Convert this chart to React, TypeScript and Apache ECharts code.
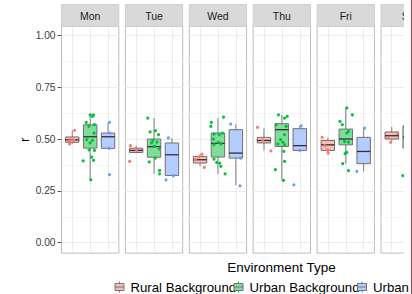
import React, { useEffect, useRef } from "react";
import * as echarts from "echarts";

// ---------- data ----------
const days = ["Mon", "Tue", "Wed", "Thu", "Fri", "Sat"];
const envTypes = ["Rural Background", "Urban Background", "Urban"];
const yMajorTicks = [0, 0.25, 0.5, 0.75, 1];
const yMinorTicks = [0.125, 0.375, 0.625, 0.875];
const yTickLabels = ["0.00", "0.25", "0.50", "0.75", "1.00"];

// box stats per day: [min, q1, median, q3, max]
const ruralBox = [
  [0.477, 0.485, 0.497, 0.511, 0.543],
  [0.436, 0.436, 0.446, 0.457, 0.469],
  [0.369, 0.385, 0.401, 0.417, 0.428],
  [0.446, 0.482, 0.494, 0.509, 0.554],
  [0.436, 0.446, 0.473, 0.494, 0.509],
  [0.489, 0.501, 0.517, 0.535, 0.559],
];
const urbanBgBox = [
  [0.304, 0.457, 0.512, 0.570, 0.618],
  [0.333, 0.413, 0.464, 0.501, 0.602],
  [0.333, 0.414, 0.480, 0.530, 0.602],
  [0.301, 0.465, 0.546, 0.575, 0.618],
  [0.382, 0.473, 0.501, 0.549, 0.651],
  [0.324, 0.458, 0.510, 0.565, 0.600],
];
const urbanBox = [
  [0.456, 0.456, 0.512, 0.530, 0.581],
  [0.324, 0.325, 0.425, 0.482, 0.506],
  [0.278, 0.409, 0.433, 0.546, 0.573],
  [0.446, 0.446, 0.469, 0.551, 0.565],
  [0.345, 0.382, 0.441, 0.509, 0.554],
  [0.420, 0.450, 0.480, 0.520, 0.560],
];

// jittered points per day: [horizontal jitter (category units), r]
const ruralPoints = [
  [[0.13, 0.543], [-0.06, 0.501], [-0.19, 0.491], [-0.15, 0.477], [0.09, 0.494]],
  [[-0.32, 0.469], [-0.36, 0.393], [0.02, 0.446]],
  [[0.11, 0.428], [0.24, 0.364], [-0.26, 0.401], [-0.07, 0.415]],
  [[-0.36, 0.557], [0.39, 0.444], [-0.07, 0.496]],
  [[-0.32, 0.509], [0.02, 0.433], [-0.02, 0.449], [-0.17, 0.469]],
  [[0.32, 0.530], [-0.06, 0.485], [-0.22, 0.507]],
];
const urbanBgPoints = [
  [[0, 0.618], [0.19, 0.618], [0.13, 0.61], [-0.22, 0.581], [0.24, 0.57], [-0.07, 0.562], [0.22, 0.53], [-0.19, 0.498], [0.13, 0.494], [0, 0.482], [-0.06, 0.449], [0.24, 0.446], [0.09, 0.414], [0.19, 0.398], [-0.39, 0.395], [0.04, 0.304]],
  [[-0.35, 0.602], [-0.22, 0.535], [0.08, 0.541], [0.25, 0.522], [-0.07, 0.494], [-0.14, 0.482], [0.16, 0.486], [0.03, 0.467], [0.29, 0.453], [0.07, 0.409], [-0.27, 0.39], [0.31, 0.349], [0.31, 0.333]],
  [[0.31, 0.607], [-0.37, 0.581], [-0.4, 0.562], [0.25, 0.53], [-0.22, 0.525], [0.07, 0.522], [-0.25, 0.501], [0.03, 0.485], [-0.22, 0.474], [0.16, 0.477], [-0.22, 0.404], [-0.07, 0.388], [0.1, 0.385], [0.16, 0.369], [0.4, 0.333]],
  [[-0.19, 0.618], [0.3, 0.61], [0.15, 0.602], [-0.32, 0.57], [0.24, 0.562], [0.15, 0.522], [-0.07, 0.498], [0.06, 0.485], [-0.22, 0.477], [0.15, 0.474], [0.11, 0.441], [0.15, 0.393], [-0.36, 0.353], [0.09, 0.301]],
  [[0.06, 0.651], [0.37, 0.618], [-0.32, 0.586], [-0.19, 0.57], [0.15, 0.538], [0.06, 0.53], [-0.07, 0.489], [0.15, 0.486], [0.06, 0.436], [-0.04, 0.43], [-0.17, 0.382], [0.15, 0.348]],
  [[-0.38, 0.324], [0.1, 0.55], [-0.1, 0.5]],
];
const urbanPoints = [
  [[0.08, 0.581], [0.1, 0.53], [0.05, 0.456], [0.08, 0.329]],
  [[-0.2, 0.506], [-0.33, 0.304], [0.08, 0.324]],
  [[-0.29, 0.573], [0.27, 0.409], [0.23, 0.275]],
  [[0.08, 0.565], [0, 0.446], [-0.33, 0.28]],
  [[0.05, 0.554], [-0.38, 0.345]],
  [[0.1, 0.55], [-0.1, 0.43]],
];

// ---------- style / layout ----------
const pointColors = ["#F8766D", "#00BA38", "#619CFF"];
const fillColors = ["#f9bcb7", "#80dc9b", "#b3cdff"];
const LEFT0 = 61.5;
const STEP = 63.9;
const PW = 57.3;
const TOP = 26.4;
const PH = 226.7;
const Y_MIN = -0.05;
const Y_MAX = 1.045;
const FONT = "Liberation Sans, Arial, Helvetica, sans-serif";
const CANVAS_W = 520;

const boxes = [ruralBox, urbanBgBox, urbanBox];
const points = [ruralPoints, urbanBgPoints, urbanPoints];

export default function App() {
  const ref = useRef<HTMLDivElement>(null);
  useEffect(() => {
    document.body.style.margin = "0";
    document.body.style.overflow = "hidden";
    const chart = echarts.init(ref.current!, null, { renderer: "svg" });

    const grids: any[] = [];
    const xAxes: any[] = [];
    const yAxes: any[] = [];
    const series: any[] = [];
    const graphics: any[] = [];

    days.forEach((day, d) => {
      const left = LEFT0 + d * STEP;
      grids.push({
        left, top: TOP, width: PW, height: PH,
        show: true, backgroundColor: "#ffffff", borderColor: "#bcbcbc", borderWidth: 1,
      });
      xAxes.push({
        type: "value", gridIndex: d, min: 0.4, max: 3.6,
        axisLine: { show: false }, axisLabel: { show: false },
        axisTick: { show: false, customValues: [1, 2, 3] },
        splitLine: { show: true, lineStyle: { color: "#ececec", width: 1 } },
      });
      const allY = [...yMajorTicks, ...yMinorTicks].sort((a, b) => a - b);
      yAxes.push({
        type: "value", gridIndex: d, min: Y_MIN, max: Y_MAX, position: "left",
        axisLine: { show: false }, axisLabel: { show: false },
        axisTick: { show: false, customValues: allY },
        splitLine: { show: true, lineStyle: { color: ["#ebebeb", "#f5f5f5"], width: 1 } },
      });
      // strip
      graphics.push({
        type: "group",
        children: [
          { type: "rect", shape: { x: left, y: 4.5, width: PW, height: TOP - 4.5 }, style: { fill: "#d9d9d9", stroke: "#cfcfcf", lineWidth: 1 } },
          { type: "text", x: left + PW / 2, y: 15.6, style: { text: day, fill: "#1a1a1a", font: `10.5px ${FONT}`, align: "center", verticalAlign: "middle" } },
        ],
      });

      envTypes.forEach((env, e) => {
        const b = boxes[e][d];
        series.push({
          type: "custom", name: env, xAxisIndex: d, yAxisIndex: d, clip: false,
          encode: { x: 0, y: [1, 2, 3, 4, 5] },
          data: [[e + 1, ...b]],
          itemStyle: { color: fillColors[e] },
          renderItem: (params: any, api: any) => {
            const x = api.value(0);
            const lo = api.coord([x, api.value(1)]);
            const q1 = api.coord([x, api.value(2)]);
            const md = api.coord([x, api.value(3)]);
            const q3 = api.coord([x, api.value(4)]);
            const hi = api.coord([x, api.value(5)]);
            const hw = api.size([0.75, 0])[0] / 2;
            const wl = { stroke: "#7d7d7d", lineWidth: 1 };
            return {
              type: "group",
              children: [
                { type: "line", shape: { x1: lo[0], y1: lo[1], x2: q1[0], y2: q1[1] }, style: wl },
                { type: "line", shape: { x1: q3[0], y1: q3[1], x2: hi[0], y2: hi[1] }, style: wl },
                { type: "rect", shape: { x: q3[0] - hw, y: q3[1], width: 2 * hw, height: q1[1] - q3[1] }, style: { fill: fillColors[e], stroke: "#707070", lineWidth: 1 } },
                { type: "line", shape: { x1: md[0] - hw, y1: md[1], x2: md[0] + hw, y2: md[1] }, style: { stroke: "#303030", lineWidth: 1.3 } },
              ],
            };
          },
        });
      });
      envTypes.forEach((env, e) => {
        series.push({
          type: "scatter", name: env, xAxisIndex: d, yAxisIndex: d,
          symbolSize: 3.2, itemStyle: { color: pointColors[e], opacity: 0.95 },
          data: points[e][d].map(([dx, v]) => [e + 1 + dx, v]),
          z: 3,
        });
      });
    });

    // labelled y axis on first panel
    yAxes.push({
      type: "value", gridIndex: 0, min: Y_MIN, max: Y_MAX, position: "left",
      name: "r", nameLocation: "middle", nameGap: 30, nameRotate: 90,
      nameTextStyle: { fontSize: 13.5, color: "#000", fontFamily: FONT },
      axisLine: { show: false },
      axisTick: { show: true, length: 4, customValues: yMajorTicks, lineStyle: { color: "#555", width: 1 } },
      axisLabel: {
        customValues: yMajorTicks, margin: 6, fontSize: 10.2, color: "#3c3c3c", fontFamily: FONT,
        formatter: (v: number) => yTickLabels[yMajorTicks.indexOf(v)] ?? v.toFixed(2),
      },
      splitLine: { show: false },
    });

    graphics.push({
      type: "text", x: 281.5, y: 267.5,
      style: { text: "Environment Type", fill: "#000", font: `13.5px ${FONT}`, align: "center", verticalAlign: "middle" },
    });
    graphics.push({ type: "rect", z: 100, shape: { x: 404, y: 0, width: 7, height: 260 }, style: { fill: "#ffffff" } });
    graphics.push({ type: "rect", z: 100, shape: { x: 412, y: 0, width: CANVAS_W - 412, height: 294 }, style: { fill: "#ffffff" } });
    graphics.push({ type: "line", z: 101, shape: { x1: 411.5, y1: 0, x2: 411.5, y2: 294 }, style: { stroke: "#b03a4a", lineWidth: 1 } });

    const icon = "path://M0,0L0,0M12,12L12,12M6,0.5L6,2.5M1.5,2.5L10.5,2.5L10.5,9.5L1.5,9.5ZM1.5,6L10.5,6M6,9.5L6,11.5";

    chart.setOption({
      animation: false,
      backgroundColor: "#ffffff",
      grid: grids,
      xAxis: xAxes,
      yAxis: yAxes,
      series,
      graphic: graphics,
      legend: {
        left: 113, top: 280.5, width: 600, padding: 0, itemGap: -4,
        itemWidth: 12, itemHeight: 12, icon,
        textStyle: { fontSize: 13.2, color: "#000", fontFamily: FONT },
        data: envTypes.map((n, i) => ({
          name: n,
          itemStyle: { color: fillColors[i], borderColor: "#777", borderWidth: 1 },
        })),
      },
    });
    return () => chart.dispose();
  }, []);
  return (
    <div style={{ position: "absolute", left: 0, top: 0, width: 412, height: 294, overflow: "hidden" }}>
      <div ref={ref} style={{ width: CANVAS_W, height: 294 }} />
    </div>
  );
}
